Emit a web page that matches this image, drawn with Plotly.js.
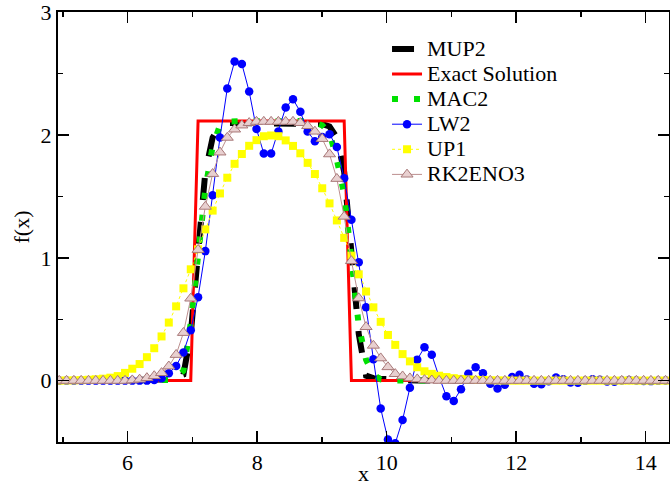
<!DOCTYPE html>
<html>
<head>
<meta charset="utf-8">
<script src="https://cdn.plot.ly/plotly-3.0.1.min.js"></script>
<style>html,body{margin:0;padding:0;background:#fff;}#chart{width:670px;height:486px;}</style>
</head>
<body>
<div id="chart"></div>
<script>
// Grid points (x) shared by all solutions
const xGrid = [
  4.832, 4.944, 5.057, 5.170, 5.283, 5.396, 5.508, 5.621, 5.734, 5.847,
  5.960, 6.072, 6.185, 6.298, 6.411, 6.524, 6.636, 6.749, 6.862, 6.975,
  7.088, 7.200, 7.313, 7.426, 7.539, 7.652, 7.764, 7.877, 7.990, 8.103,
  8.216, 8.328, 8.441, 8.554, 8.667, 8.780, 8.892, 9.005, 9.118, 9.231,
  9.344, 9.456, 9.569, 9.682, 9.795, 9.908, 10.020, 10.133, 10.246, 10.359,
  10.472, 10.584, 10.697, 10.810, 10.923, 11.036, 11.148, 11.261, 11.374, 11.487,
  11.600, 11.712, 11.825, 11.938, 12.051, 12.164, 12.276, 12.389, 12.502, 12.615,
  12.728, 12.840, 12.953, 13.066, 13.179, 13.292, 13.404, 13.517, 13.630, 13.743,
  13.856, 13.968, 14.081, 14.194, 14.307, 14.420
];

const mup2 = [
  0, 0, 0, 0, 0, 0, 0, 0, 0, 0,
  0, 0, 0, 0, 0, 0, 0.01, 0.03, 0.05, 0.38,
  1.05, 1.70, 1.98, 2.08, 2.10, 2.10, 2.10, 2.10, 2.10, 2.10,
  2.10, 2.10, 2.10, 2.10, 2.10, 2.10, 2.10, 2.09, 2.07, 1.98,
  1.70, 1.08, 0.38, 0.04, 0.02, 0.015, 0.01, 0.01, 0.005, 0,
  0, 0, 0, 0, 0, 0, 0, 0, 0, 0,
  0, 0, 0, 0, 0, 0, 0, 0, 0, 0,
  0, 0, 0, 0, 0, 0, 0, 0, 0, 0,
  0, 0, 0, 0, 0, 0
];

const exact = [
  0, 0, 0, 0, 0, 0, 0, 0, 0, 0,
  0, 0, 0, 0, 0, 0, 0, 0, 0, 0,
  2.115, 2.115, 2.115, 2.115, 2.115, 2.115, 2.115, 2.115, 2.115, 2.115,
  2.115, 2.115, 2.115, 2.115, 2.115, 2.115, 2.115, 2.115, 2.115, 2.115,
  2.115, 0, 0, 0, 0, 0, 0, 0, 0, 0,
  0, 0, 0, 0, 0, 0, 0, 0, 0, 0,
  0, 0, 0, 0, 0, 0, 0, 0, 0, 0,
  0, 0, 0, 0, 0, 0, 0, 0, 0, 0,
  0, 0, 0, 0, 0, 0
];

const mac2 = [
  0, 0, 0, 0, 0, 0, 0, 0, 0, 0,
  0, 0, 0, 0, 0, 0, 0.005, 0.02, 0.08, 0.47,
  1.02, 1.56, 1.91, 2.08, 2.11, 2.115, 2.115, 2.115, 2.115, 2.115,
  2.115, 2.115, 2.115, 2.115, 2.115, 2.115, 2.10, 2.08, 2.02, 1.80,
  1.52, 0.95, 0.45, 0.17, 0.05, 0.01, 0, 0, 0, 0,
  0, 0, 0, 0, 0, 0, 0, 0, 0, 0,
  0, 0, 0, 0, 0, 0, 0, 0, 0, 0,
  0, 0, 0, 0, 0, 0, 0, 0, 0, 0,
  0, 0, 0, 0, 0, 0
];

const lw2 = [
  0, 0, 0, 0, 0, 0, 0, 0, 0, 0,
  0, 0, 0, 0, 0.005, 0.02, 0.06, 0.12, 0.23, 0.41,
  0.68, 1.055, 1.51, 1.98, 2.38, 2.60, 2.58, 2.355, 2.05, 1.85,
  1.85, 2.03, 2.225, 2.293, 2.19, 2.03, 1.95, 1.985, 2.007, 1.903,
  1.648, 1.31, 0.965, 0.597, 0.175, -0.227, -0.48, -0.51, -0.32, -0.058,
  0.171, 0.272, 0.211, 0.03, -0.128, -0.165, -0.07, 0.056, 0.109, 0.06,
  -0.026, -0.065, -0.034, 0.03, 0.047, 0.01, -0.025, -0.03, -0.005, 0.025,
  0.012, -0.015, -0.018, 0.0, 0.012, 0.008, -0.008, -0.01, 0.002, 0.006,
  0.002, -0.003, -0.004, 0, 0.002, 0
];

const up1 = [
  0, 0, 0.001, 0.002, 0.004, 0.007, 0.011, 0.016, 0.024, 0.037,
  0.063, 0.097, 0.135, 0.191, 0.264, 0.36, 0.473, 0.605, 0.752, 0.907,
  1.07, 1.232, 1.385, 1.525, 1.653, 1.766, 1.846, 1.913, 1.959, 1.991,
  1.997, 1.991, 1.957, 1.912, 1.852, 1.774, 1.683, 1.567, 1.444, 1.305,
  1.163, 1.018, 0.866, 0.726, 0.597, 0.479, 0.372, 0.291, 0.216, 0.157,
  0.109, 0.076, 0.055, 0.04, 0.029, 0.02, 0.014, 0.01, 0.007, 0.005,
  0.003, 0.002, 0.001, 0, 0, 0, 0, 0, 0, 0,
  0, 0, 0, 0, 0, 0, 0, 0, 0, 0,
  0, 0, 0, 0, 0, 0
];

const rk2eno3 = [
  0, 0, 0, 0, 0, 0, 0, 0, 0, 0,
  0, 0.004, 0.01, 0.022, 0.038, 0.063, 0.117, 0.211, 0.39, 0.67,
  1.066, 1.418, 1.685, 1.86, 1.98, 2.047, 2.08, 2.10, 2.11, 2.11,
  2.11, 2.11, 2.11, 2.11, 2.10, 2.075, 2.03, 1.97, 1.845, 1.645,
  1.337, 0.975, 0.672, 0.438, 0.286, 0.183, 0.111, 0.055, 0.036, 0.02,
  0.012, 0.006, 0.003, 0, 0, 0, 0, 0, 0, 0,
  0, 0, 0, 0, 0, 0, 0, 0, 0, 0,
  0, 0, 0, 0, 0, 0, 0, 0, 0, 0,
  0, 0, 0, 0, 0, 0
];

const seriesNames = ['MUP2', 'Exact Solution', 'MAC2', 'LW2', 'UP1', 'RK2ENO3'];
const xTickVals = [6, 8, 10, 12, 14];
const yTickVals = [0, 1, 2, 3];

const FONT = '"Liberation Serif", "Times New Roman", serif';
const big = s => '<span style="font-size:22px">' + s + '</span>';

const traces = [
  {x: xGrid, y: mup2, name: big(seriesNames[0]), mode: 'lines',
   line: {color: '#000000', width: 6, dash: '22px,22px'}},
  {x: xGrid, y: exact, name: big(seriesNames[1]), mode: 'lines',
   line: {color: '#ff0000', width: 3}},
  {x: xGrid, y: mac2, name: big(seriesNames[2]), mode: 'lines',
   line: {color: '#00e000', width: 6, dash: '6px,16px'}},
  {x: xGrid, y: lw2, name: big(seriesNames[3]), mode: 'lines+markers',
   line: {color: '#0000ff', width: 1},
   marker: {color: '#0000ff', size: 8.5, symbol: 'circle'}},
  {x: xGrid, y: up1, name: big(seriesNames[4]), mode: 'lines+markers',
   line: {color: '#ffff00', width: 1, dash: 'dot'},
   marker: {color: '#ffff00', size: 8, symbol: 'square'}},
  {x: xGrid, y: rk2eno3, name: big(seriesNames[5]), mode: 'lines+markers',
   line: {color: '#bc8f8f', width: 1},
   marker: {color: '#e8d0d0', size: 10.5, symbol: 'triangle-up',
            line: {color: '#a87878', width: 1}}}
];

const layout = {
  width: 670, height: 486,
  margin: {l: 58, r: 1, t: 12, b: 44},
  paper_bgcolor: '#ffffff', plot_bgcolor: '#ffffff',
  font: {family: FONT, size: 22, color: '#000'},
  showlegend: true,
  legend: {x: 0.5385, y: 0.955, xanchor: 'left', yanchor: 'top',
           bgcolor: 'rgba(0,0,0,0)', borderwidth: 0,
           font: {family: FONT, size: 17, color: '#000'}},
  xaxis: {
    range: [4.925, 14.36], tickmode: 'array', tickvals: xTickVals,
    ticks: 'inside', ticklen: 11, tickwidth: 1.5, tickcolor: '#000',
    showline: true, linewidth: 2, linecolor: '#000', mirror: 'allticks',
    showgrid: false, zeroline: false,
    minor: {dtick: 1, ticks: 'inside', ticklen: 5, tickwidth: 1.5, tickcolor: '#000', showgrid: false},
    tickfont: {family: FONT, size: 22},
    title: {text: 'x', font: {family: FONT, size: 22}, standoff: 4}
  },
  yaxis: {
    range: [-0.5, 3.003], tickmode: 'array', tickvals: yTickVals,
    ticks: 'inside', ticklen: 11, tickwidth: 1.5, tickcolor: '#000',
    showline: true, linewidth: 2, linecolor: '#000', mirror: 'allticks',
    showgrid: false, zeroline: false,
    minor: {dtick: 0.5, ticks: 'inside', ticklen: 5, tickwidth: 1.5, tickcolor: '#000', showgrid: false},
    tickfont: {family: FONT, size: 22},
    ticklabeloverflow: 'allow',
    title: {text: 'f(x)', font: {family: FONT, size: 22}, standoff: 5}
  }
};

Plotly.newPlot('chart', traces, layout, {displayModeBar: false, staticPlot: true});
</script>
</body>
</html>
